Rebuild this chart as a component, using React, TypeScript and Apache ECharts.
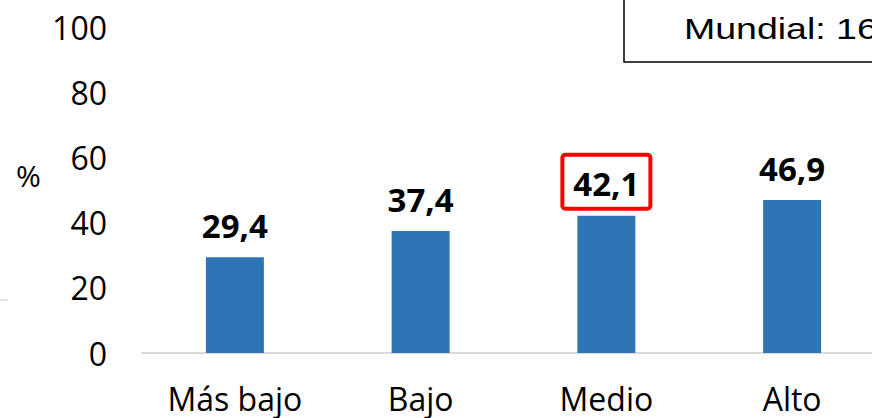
import React, { useEffect, useRef } from "react";
import * as echarts from "echarts";

const categories = ["Más bajo", "Bajo", "Medio", "Alto"];
const values = [29.4, 37.4, 42.1, 46.9];
const highlighted = "Medio";
const yTicks = [0, 20, 40, 60, 80, 100];
const boxText = "Mundial: 16";

export default function App() {
  const ref = useRef<HTMLDivElement>(null);
  useEffect(() => {
    const chart = echarts.init(ref.current!, null, { renderer: "svg" });
    const fmt = (v: number) => v.toFixed(1).replace(".", ",");
    chart.setOption({
      animation: false,
      grid: { left: 142, width: 743, top: 27, height: 326, containLabel: false },
      xAxis: {
        type: "category",
        data: categories,
        axisLine: { lineStyle: { color: "#d9d9d9", width: 2 } },
        axisTick: { show: false },
        axisLabel: { color: "#000", fontSize: 32, fontFamily: "Open Sans", margin: 29 },
      },
      yAxis: {
        type: "value",
        min: yTicks[0],
        max: yTicks[yTicks.length - 1],
        interval: 20,
        splitLine: { show: false },
        axisLine: { show: false },
        axisTick: { show: false },
        axisLabel: { color: "#000", fontSize: 32, fontFamily: "Open Sans", margin: 35 },
      },
      series: [
        {
          type: "bar",
          barWidth: 58,
          itemStyle: { color: "#2e75b6" },
          data: values.map((v, i) => ({
            value: v,
            label:
              categories[i] === highlighted
                ? {
                    borderColor: "#ff0000",
                    borderWidth: 4,
                    borderRadius: 3,
                    padding: [12, 11, 9, 11],
                    distance: 7,
                  }
                : {},
          })),
          label: {
            show: true,
            position: "top",
            distance: 15,
            color: "#000",
            fontSize: 33,
            fontWeight: "bold",
            fontFamily: "Open Sans",
            formatter: (p: any) => fmt(p.value),
          },
        },
      ],
      graphic: [
        {
          type: "text",
          left: 16,
          top: 160,
          style: { text: "%", fontSize: 30, fontFamily: "Open Sans", fill: "#000" },
        },
        {
          type: "rect",
          shape: { x: 624, y: -10, width: 300, height: 72 },
          style: { fill: "#fff", stroke: "#000", lineWidth: 1.5 },
        },
        {
          type: "text",
          x: 684,
          y: 13,
          scaleX: 1.25,
          style: { text: boxText, fontSize: 30, fontFamily: "Liberation Sans", fill: "#000" },
        },
        {
          type: "line",
          shape: { x1: 0, y1: 300, x2: 8, y2: 300 },
          style: { stroke: "#d9d9d9", lineWidth: 1.5 },
        },
      ],
    });
    return () => chart.dispose();
  }, []);
  return (
    <div
      style={{
        position: "absolute",
        left: 0,
        top: 0,
        width: 872,
        height: 418,
        overflow: "hidden",
        background: "#fff",
      }}
    >
      <div ref={ref} style={{ width: 900, height: 418 }} />
    </div>
  );
}
